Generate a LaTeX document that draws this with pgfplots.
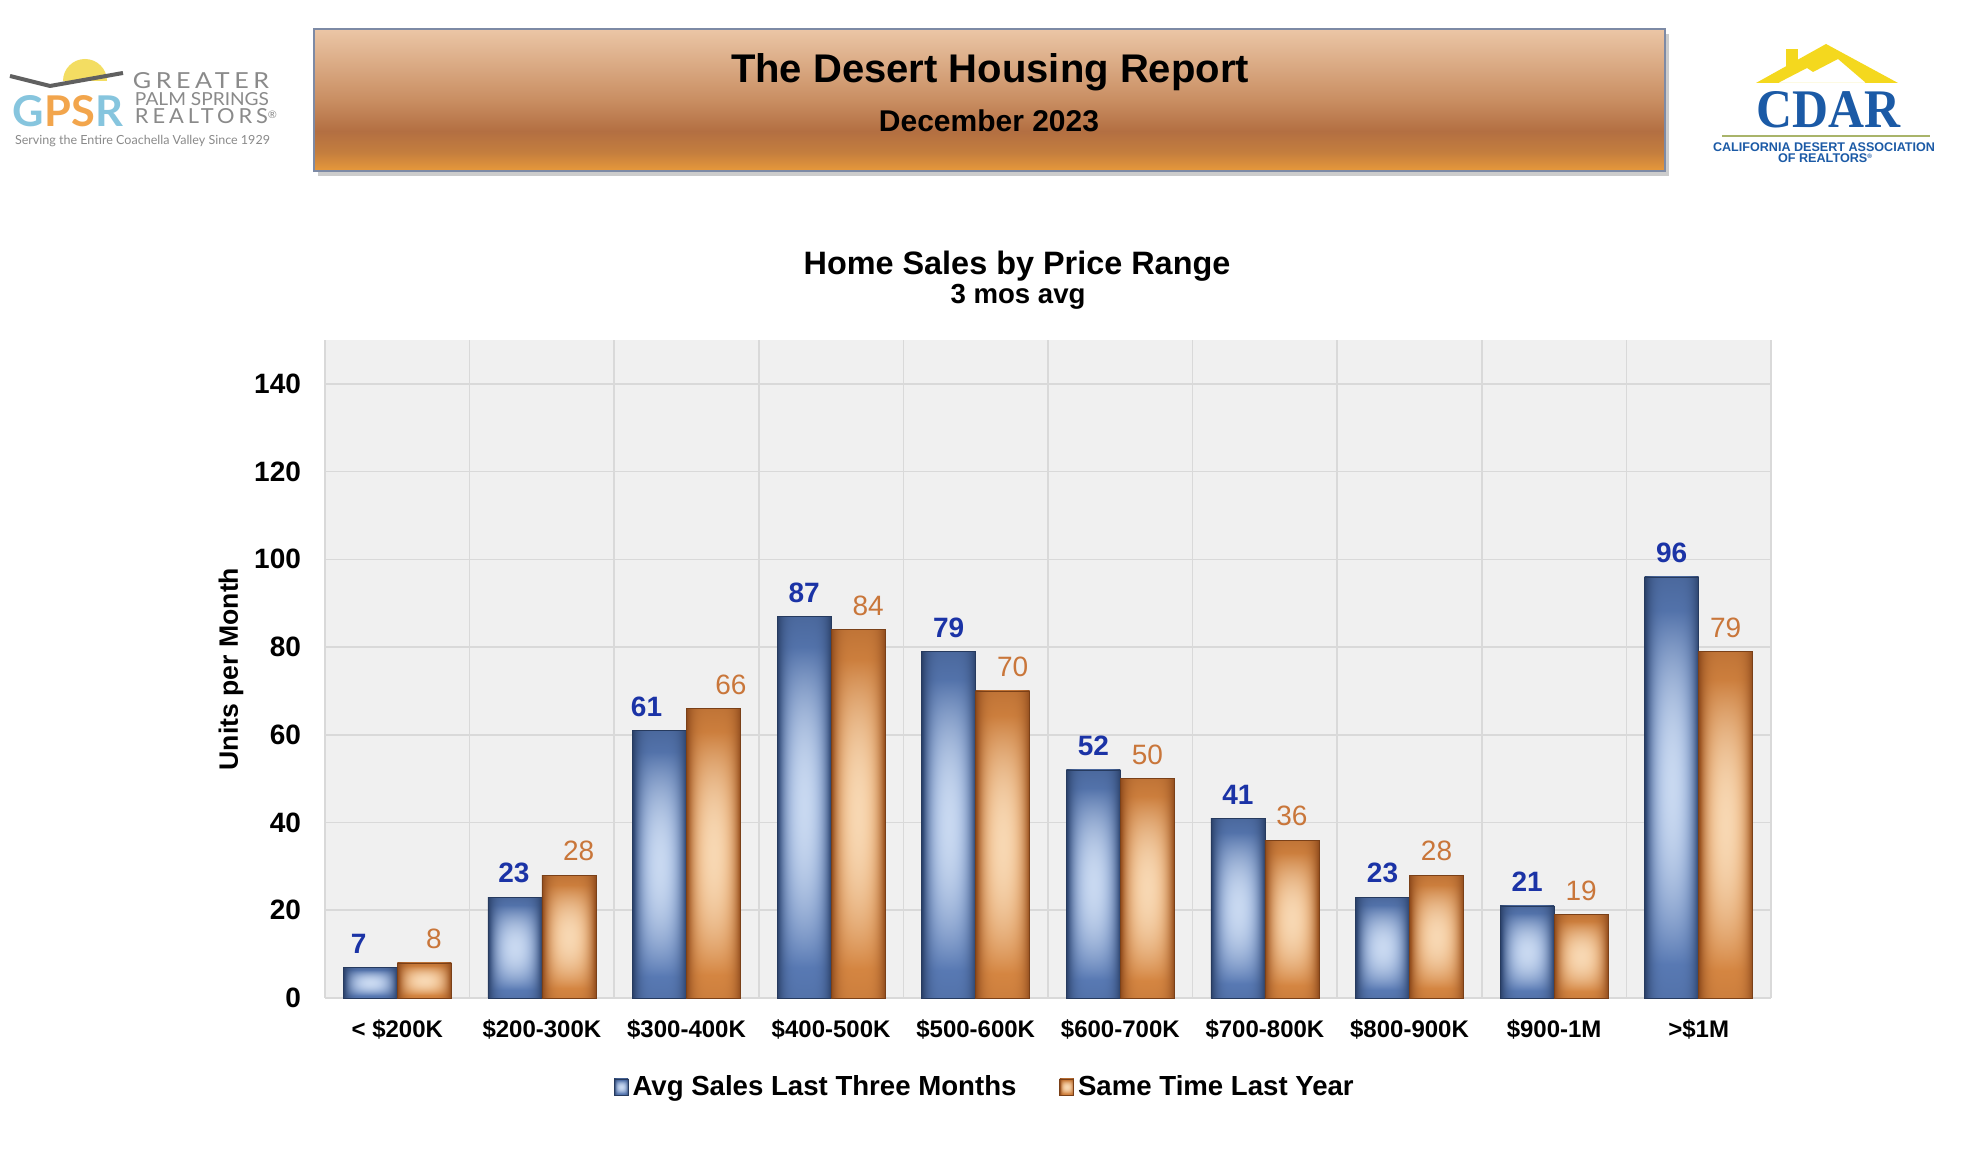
\documentclass[border=0pt]{standalone}
\usepackage{fontspec}
\setmainfont{Liberation Sans}
\newfontfamily\serifb{Liberation Serif}
\newfontfamily\gpsrfont{Lato}
\newfontfamily\gpsrspaced[LetterSpace=18]{Lato}
\usepackage{graphicx}
\usepackage{pgfplots}
\pgfplotsset{compat=1.18}

\definecolor{plotbg}{HTML}{F0F0F0}
\definecolor{gridc}{HTML}{D9D9D9}
\definecolor{lblblue}{HTML}{1B33A6}
\definecolor{lblorange}{HTML}{C9763A}
\definecolor{bluedark}{HTML}{263A5E}
\definecolor{orangedark}{HTML}{7A4018}
\definecolor{hdtop}{HTML}{EBC6A6}
\definecolor{hdmid}{HTML}{C98E62}
\definecolor{hddark}{HTML}{B36F42}
\definecolor{hdlow}{HTML}{C47E3E}
\definecolor{hdbot}{HTML}{E8993A}
\definecolor{hdborder}{HTML}{7D8AA5}
\definecolor{gpsrblue}{HTML}{86C5DE}
\definecolor{gpsrorange}{HTML}{F2A54C}
\definecolor{gpsrgray}{HTML}{8A8A8A}
\definecolor{sunyellow}{HTML}{F3DD62}
\definecolor{cdarblue}{HTML}{1B5AA6}
\definecolor{cdaryellow}{HTML}{F4D81E}
\definecolor{cdargreen}{HTML}{A9B46A}

\pgfdeclareverticalshading{header}{100bp}{
  color(0bp)=(hdbot); color(25bp)=(hdbot); color(31.5bp)=(hdlow);
  color(39bp)=(hddark); color(50bp)=(hdmid); color(75bp)=(hdtop); color(100bp)=(hdtop)}

% colour = D + (M-D) A + (L-M) B ; A broad body factor, B soft light spot factor
\pgfdeclarefunctionalshading{barblue}{\pgfpoint{-50bp}{-50bp}}{\pgfpoint{50bp}{50bp}}{}{
  25 add 50 div 0.5 sub
  dup dup 0 lt {0.9 div} {0.75 div} ifelse dup mul 1 exch sub dup 0 lt {pop 0} if
  exch 0.42 div dup mul 1 exch sub dup 0 lt {pop 0} if
  2 index 25 div dup mul
  dup dup mul 1 exch sub dup 0 lt {pop 0} if
  exch 0.9 div 1 exch sub dup 0 lt {pop 0} if
  3 -1 roll mul
  3 1 roll mul
  3 -1 roll pop
  1 index 0.388 mul 1 index 0.231 mul add 0.165 add 3 1 roll
  1 index 0.310 mul 1 index 0.286 mul add 0.251 add 3 1 roll
  0.376 mul exch 0.157 mul add 0.408 add
}
\pgfdeclarefunctionalshading{barorange}{\pgfpoint{-50bp}{-50bp}}{\pgfpoint{50bp}{50bp}}{}{
  25 add 50 div 0.5 sub
  dup dup 0 lt {0.9 div} {0.75 div} ifelse dup mul 1 exch sub dup 0 lt {pop 0} if
  exch 0.42 div dup mul 1 exch sub dup 0 lt {pop 0} if
  2 index 25 div dup mul
  dup dup mul 1 exch sub dup 0 lt {pop 0} if
  exch 0.9 div 1 exch sub dup 0 lt {pop 0} if
  3 -1 roll mul
  3 1 roll mul
  3 -1 roll pop
  1 index 0.059 mul 1 index 0.353 mul add 0.557 add 3 1 roll
  1 index 0.255 mul 1 index 0.298 mul add 0.290 add 3 1 roll
  0.188 mul exch 0.400 mul add 0.110 add
}

\pgfplotsset{
  bluebarstyle/.style={ybar, bar width=27pt, bar shift=-13.5pt, shade, shading=barblue,
    draw=bluedark, line width=0.3pt, forget plot, nodes near coords,
    every node near coord/.append style={font=\fontsize{14}{16}\selectfont\bfseries, text=lblblue,
      anchor=south, yshift=3.5pt, xshift=-13.5pt}},
  orangebarstyle/.style={ybar, bar width=27pt, bar shift=13.5pt, shade, shading=barorange,
    draw=orangedark, line width=0.3pt, forget plot, nodes near coords,
    every node near coord/.append style={font=\fontsize{14}{16}\selectfont, text=lblorange,
      anchor=south, yshift=3.5pt, xshift=13.5pt}},
}
% optional argument: extra horizontal offset of the value label
\newcommand{\bluebar}[3][0pt]{\addplot[bluebarstyle, every node near coord/.append style={xshift=#1}] coordinates {(#2,#3)};}
\newcommand{\orangebar}[3][0pt]{\addplot[orangebarstyle, every node near coord/.append style={xshift=#1}] coordinates {(#2,#3)};}

\begin{document}
\begin{tikzpicture}
\begin{scope}[x=0.5pt,y=0.5pt]
\fill[white] (0,0) rectangle (1984,1149);
\useasboundingbox (0,0) rectangle (1984,1149);

% header box
\fill[gray!40] (318,973) rectangle (1669,1115);
\shade[shading=header] (314,978) rectangle (1665,1120);
\draw[hdborder, line width=0.8pt] (314,978) rectangle (1665,1120);
\node[font=\fontsize{20}{23}\selectfont\bfseries] at (990,1077) {The Desert Housing Report};
\node[font=\fontsize{15}{17}\selectfont\bfseries] at (989,1028) {December 2023};

% chart titles
\node[font=\fontsize{16.2}{19}\selectfont\bfseries] at (1017,883) {Home Sales by Price Range};
\node[font=\fontsize{13.8}{16}\selectfont\bfseries] at (1018,852) {3 mos avg};

% GPSR logo
\fill[sunyellow] (63,1068) arc (180:0:22) -- cycle;
\draw[gray!75!black, line width=2pt, line join=round] (10,1073) -- (50,1063) -- (123,1076);
\node[inner sep=0pt] at (68,1038) {\resizebox{55pt}{15.5pt}{\gpsrfont\bfseries\textcolor{gpsrblue}{G}\textcolor{gpsrorange}{PS}\textcolor{gpsrblue}{R}}};
\node[inner sep=0pt, text=gpsrgray] at (201,1068) {\resizebox{68pt}{8pt}{\gpsrspaced GREATER}};
\node[inner sep=0pt, text=gpsrgray] at (202,1049.5) {\resizebox{67pt}{6.5pt}{\gpsrfont PALM SPRINGS}};
\node[inner sep=0pt, text=gpsrgray] at (206,1033) {\resizebox{71pt}{7.5pt}{\gpsrspaced REALTORS\raisebox{0.5ex}{\tiny ®}}};
\node[inner sep=0pt, text=gpsrgray] at (142.5,1008) {\resizebox{127.5pt}{!}{\gpsrfont Serving the Entire Coachella Valley Since 1929}};

% CDAR logo
\fill[cdaryellow, even odd rule] (1756,1066) -- (1826,1105) -- (1898,1066) -- cycle
  (1778,1066) -- (1807,1081) -- (1813,1077) -- (1838,1090) -- (1866,1066) -- cycle;
\fill[cdaryellow] (1786,1080) rectangle (1798,1100);
\node[inner sep=0pt, text=cdarblue] at (1828,1039.5) {\resizebox{72pt}{18pt}{\serifb\bfseries CDAR}};
\draw[cdargreen, line width=1.2pt] (1722,1013) -- (1930,1013);
\node[inner sep=0pt, text=cdarblue] at (1824,1001.5) {\resizebox{111pt}{!}{\bfseries CALIFORNIA DESERT ASSOCIATION}};
\node[inner sep=0pt, text=cdarblue] at (1825,991) {\resizebox{47pt}{!}{\bfseries OF REALTORS\raisebox{0.5ex}{\tiny ®}}};
\end{scope}

\begin{axis}[
  at={(162.5pt,75.5pt)}, anchor=south west,
  scale only axis, width=723pt, height=329pt,
  xmin=-0.5, xmax=9.5, ymin=0, ymax=150,
  xtick={0,...,9},
  xticklabels={{< \$200K},{\$200-300K},{\$300-400K},{\$400-500K},{\$500-600K},{\$600-700K},{\$700-800K},{\$800-900K},{\$900-1M},{>\$1M}},
  ytick={0,20,...,140},
  minor xtick={-0.5,0.5,...,9.5},
  xminorgrids, ymajorgrids, xmajorgrids=false,
  major tick length=0pt, minor tick length=0pt,
  axis line style={draw=none},
  axis background/.style={fill=plotbg},
  major grid style={draw=gridc, line width=0.8pt},
  minor grid style={draw=gridc, line width=0.8pt},
  /pgf/number format/assume math mode=true,
  xticklabel style={font=\fontsize{12}{14}\selectfont\bfseries, yshift=-7.3pt},
  yticklabel style={font=\fontsize{14}{16}\selectfont\bfseries, xshift=-8.5pt},
  ylabel={Units per Month},
  ylabel style={font=\fontsize{13.3}{15}\selectfont\bfseries, at={(axis description cs:-0.065,0.5)}, anchor=center},
  legend columns=2,
  legend style={at={(0.457,-0.135)}, anchor=center, draw=none, fill=none,
    font=\fontsize{13.8}{16}\selectfont\bfseries,
    /tikz/every even column/.append style={column sep=19.5pt}},
  clip=false,
]
\addlegendimage{legend image code/.code={\path[shade, shading=barblue, draw=bluedark, line width=0.3pt] (0pt,-4pt) rectangle (7pt,4pt);}}
\addlegendentry{Avg Sales Last Three Months}
\addlegendimage{legend image code/.code={\path[shade, shading=barorange, draw=orangedark, line width=0.3pt] (0pt,-4pt) rectangle (7pt,4pt);}}
\addlegendentry{Same Time Last Year}
% Avg Sales Last Three Months
\bluebar[-5.8pt]{0}{7}
\bluebar[-0.5pt]{1}{23}
\bluebar[-6.5pt]{2}{61}
\bluebar{3}{87}
\bluebar{4}{79}
\bluebar{5}{52}
\bluebar{6}{41}
\bluebar{7}{23}
\bluebar{8}{21}
\bluebar{9}{96}
% Same Time Last Year
\orangebar[4.8pt]{0}{8}
\orangebar[4.9pt]{1}{28}
\orangebar[8.7pt]{2}{66}
\orangebar[5pt]{3}{84}
\orangebar[5pt]{4}{70}
\orangebar{5}{50}
\orangebar{6}{36}
\orangebar{7}{28}
\orangebar{8}{19}
\orangebar{9}{79}
\end{axis}
\end{tikzpicture}
\end{document}
